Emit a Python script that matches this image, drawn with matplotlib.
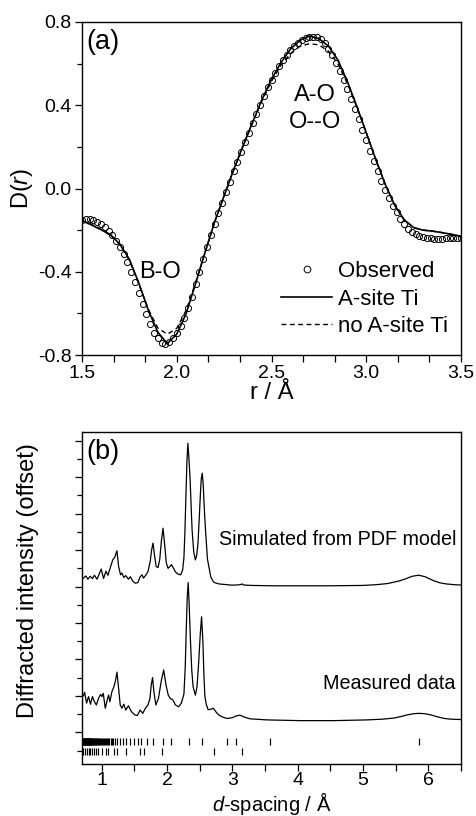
import matplotlib
matplotlib.use("Agg")
import matplotlib.pyplot as plt
from matplotlib.ticker import MultipleLocator, NullFormatter, FormatStrFormatter

plt.rcParams['font.family'] = ['Liberation Sans', 'DejaVu Sans']
plt.rcParams['mathtext.fontset'] = 'custom'
plt.rcParams['mathtext.rm'] = 'Liberation Sans'
plt.rcParams['mathtext.it'] = 'Liberation Sans:italic'

# ---------------- Panel (a) data ----------------
obs_r = [1.50,1.52,1.54,1.56,1.58,1.60,1.62,1.64,1.66,1.68,1.70,1.72,1.74,1.76,1.78,1.80,
         1.82,1.84,1.86,1.88,1.90,1.92,1.94,1.96,1.98,2.00,2.02,2.04,2.06,2.08,2.10,2.12,
         2.14,2.16,2.18,2.20,2.22,2.24,2.26,2.28,2.30,2.32,2.34,2.36,2.38,2.40,2.42,2.44,
         2.46,2.48,2.50,2.52,2.54,2.56,2.58,2.60,2.62,2.64,2.66,2.68,2.70,2.72,2.74,2.76,
         2.78,2.80,2.82,2.84,2.86,2.88,2.90,2.92,2.94,2.96,2.98,3.00,3.02,3.04,3.06,3.08,
         3.10,3.12,3.14,3.16,3.18,3.20,3.22,3.24,3.26,3.28,3.30,3.32,3.34,3.36,3.38,3.40,
         3.42,3.44,3.46,3.48,3.50]
obs_D = [-0.150,-0.148,-0.148,-0.152,-0.160,-0.172,-0.186,-0.205,-0.225,-0.250,-0.280,-0.315,
         -0.355,-0.400,-0.450,-0.500,-0.553,-0.605,-0.652,-0.692,-0.720,-0.740,-0.745,-0.738,
         -0.720,-0.695,-0.660,-0.620,-0.575,-0.520,-0.460,-0.400,-0.340,-0.282,-0.225,-0.170,
         -0.118,-0.068,-0.018,0.032,0.082,0.128,0.175,0.222,0.268,0.313,0.358,0.402,0.445,
         0.486,0.522,0.557,0.588,0.616,0.642,0.665,0.684,0.700,0.713,0.722,0.728,0.730,0.726,
         0.716,0.698,0.672,0.640,0.604,0.564,0.521,0.476,0.429,0.381,0.332,0.282,0.232,0.182,
         0.132,0.083,0.037,-0.006,-0.046,-0.082,-0.115,-0.146,-0.172,-0.193,-0.209,-0.221,
         -0.229,-0.235,-0.238,-0.240,-0.241,-0.241,-0.241,-0.240,-0.240,-0.239,-0.238,-0.236]

fit_r = [1.50,1.55,1.60,1.65,1.70,1.75,1.80,1.85,1.90,1.95,2.00,2.05,2.10,2.15,2.20,2.25,
         2.30,2.35,2.40,2.45,2.50,2.55,2.60,2.65,2.70,2.75,2.80,2.85,2.90,2.95,3.00,3.05,
         3.10,3.15,3.20,3.25,3.30,3.35,3.40,3.45,3.50]
asite_D = [-0.155,-0.175,-0.198,-0.222,-0.268,-0.340,-0.455,-0.585,-0.690,-0.745,-0.700,
           -0.600,-0.455,-0.305,-0.160,-0.035,0.090,0.205,0.318,0.428,0.525,0.605,0.670,
           0.712,0.733,0.720,0.685,0.618,0.515,0.395,0.268,0.140,0.020,-0.080,-0.150,
           -0.188,-0.200,-0.205,-0.212,-0.220,-0.230]
noasite_D = [-0.155,-0.172,-0.195,-0.222,-0.270,-0.345,-0.460,-0.580,-0.670,-0.700,-0.672,
             -0.585,-0.450,-0.305,-0.162,-0.035,0.088,0.203,0.315,0.422,0.515,0.592,0.648,
             0.683,0.696,0.690,0.660,0.600,0.505,0.392,0.268,0.140,0.020,-0.080,-0.150,
             -0.188,-0.200,-0.205,-0.212,-0.220,-0.230]

# ---------------- Panel (b) data ----------------
sim_d = [0.72,0.76,0.79,0.826,0.86,0.89,0.93,0.964,0.994,1.03,1.066,1.097,1.13,1.17,1.20,
         1.235,1.26,1.29,1.31,1.34,1.37,1.41,1.44,1.475,1.516,1.556,1.59,1.62,1.64,1.68,
         1.71,1.745,1.765,1.787,1.81,1.835,1.864,1.89,1.915,1.94,1.965,1.99,2.017,2.045,
         2.07,2.10,2.13,2.17,2.21,2.24,2.26,2.275,2.29,2.305,2.32,2.337,2.355,2.37,2.385,
         2.41,2.435,2.455,2.475,2.495,2.51,2.525,2.54,2.555,2.57,2.59,2.62,2.67,2.71,2.74,
         2.8,2.86,2.92,2.97,3.05,3.12,3.15,3.18,3.3,3.6,4.0,4.5,5.0,5.2,5.37,5.5,5.57,5.65,
         5.75,5.85,5.95,6.08,6.18,6.28,6.4,6.5]
sim_I = [4.23,4.29,4.20,4.28,4.22,4.31,4.20,4.35,4.48,4.22,4.42,4.31,4.50,4.73,4.80,
         4.98,4.55,4.32,4.37,4.25,4.30,4.20,4.27,4.15,4.09,4.11,4.27,4.32,4.23,4.32,
         4.41,4.70,5.00,5.19,4.85,4.55,4.52,4.75,5.25,5.60,5.15,4.65,4.50,4.55,
         4.60,4.50,4.40,4.34,4.32,4.45,4.80,5.50,6.47,7.40,7.93,7.50,6.93,6.20,5.55,
         4.95,4.73,4.85,5.19,5.90,6.47,6.95,7.11,6.80,6.20,5.55,4.75,4.27,4.13,4.10,
         4.07,4.06,4.05,4.04,4.04,4.05,4.07,4.04,4.03,4.02,4.02,4.02,4.03,4.05,4.08,4.13,
         4.16,4.21,4.28,4.31,4.27,4.16,4.10,4.07,4.05,4.04]

meas_d = [0.72,0.74,0.77,0.80,0.83,0.86,0.89,0.92,0.953,0.984,1.005,1.025,1.056,1.086,1.107,
          1.127,1.158,1.18,1.21,1.235,1.26,1.285,1.31,1.34,1.37,1.41,1.455,1.505,1.547,1.59,
          1.63,1.67,1.71,1.74,1.76,1.78,1.80,1.83,1.87,1.915,1.95,1.985,2.02,2.05,2.09,2.13,
          2.18,2.22,2.26,2.28,2.295,2.31,2.325,2.34,2.36,2.38,2.40,2.435,2.46,2.485,2.51,
          2.53,2.55,2.565,2.58,2.60,2.63,2.67,2.71,2.75,2.79,2.85,2.92,3.0,3.06,3.12,3.18,
          3.27,3.53,4.04,4.55,5.06,5.3,5.47,5.6,5.68,5.78,5.85,5.95,6.03,6.15,6.24,6.35,6.5]
meas_I = [1.00,1.10,0.80,0.98,0.77,0.98,0.84,0.75,0.93,1.04,0.98,1.07,0.66,0.89,1.02,
          0.84,1.12,1.21,1.39,1.65,1.21,0.75,0.66,0.77,0.61,0.73,0.57,0.48,0.46,0.61,
          0.52,0.66,0.75,0.93,1.30,1.50,1.12,0.75,0.93,1.43,1.71,1.30,1.02,0.93,0.89,0.75,
          0.70,0.80,1.05,1.80,2.80,3.70,4.11,3.50,2.50,1.70,1.25,1.02,1.25,1.90,2.70,
          3.17,2.50,1.60,1.00,0.78,0.62,0.63,0.66,0.56,0.48,0.42,0.38,0.40,0.45,0.47,0.42,
          0.37,0.34,0.32,0.32,0.34,0.36,0.39,0.44,0.48,0.51,0.52,0.51,0.48,0.42,0.38,0.36,0.35]

refl_row1 = [0.71,0.715,0.72,0.725,0.73,0.735,0.74,0.745,0.75,0.755,0.76,0.765,0.77,0.775,
             0.78,0.785,0.79,0.795,0.80,0.806,0.812,0.818,0.824,0.83,0.837,0.844,0.851,
             0.858,0.866,0.874,0.882,0.89,0.90,0.91,0.92,0.93,0.94,0.95,0.962,0.975,0.988,
             1.0,1.02,1.035,1.05,1.065,1.08,1.10,1.12,1.14,1.16,1.18,1.21,1.24,1.28,1.33,
             1.38,1.44,1.50,1.55,1.60,1.69,1.79,1.945,2.06,2.33,2.53,2.92,3.055,3.58,5.85]
refl_row2 = [0.72,0.745,0.77,0.80,0.82,0.85,0.88,0.91,0.95,1.0,1.066,1.10,1.19,1.23,
             1.37,1.59,1.65,1.93,2.72,3.15]

FS_TICK = 14
FS_LAB = 17
FS_LEG = 16
FS_ANN = 17
FS_PANEL = 19.5
FS_NOTE = 14.2

fig = plt.figure(figsize=(4.76, 8.16), dpi=100)

def style(ax):
    for s in ax.spines.values():
        s.set_linewidth(1.0)
    ax.tick_params(which='both', direction='out', top=False, right=False,
                   labelsize=FS_TICK, width=0.9, pad=2.5)
    ax.tick_params(which='major', length=5)
    ax.tick_params(which='minor', length=3.5)

# ---- panel (a) ----
axa = fig.add_axes([82/476, 1-355/816, 379/476, 333/816])
axa.plot(obs_r, obs_D, 'o', ms=4.4, mfc='none', mec='black', mew=0.7, label='Observed')
axa.plot(fit_r, asite_D, '-', color='black', lw=1.2, label='A-site Ti')
axa.plot(fit_r, noasite_D, '--', color='black', lw=1.0, dashes=(3.5, 2.5), label='no A-site Ti')
axa.set_xlim(1.5, 3.5)
axa.set_ylim(-0.8, 0.8)
axa.xaxis.set_major_locator(MultipleLocator(0.5))
axa.xaxis.set_minor_locator(MultipleLocator(0.5/3))
axa.yaxis.set_major_locator(MultipleLocator(0.4))
axa.yaxis.set_minor_locator(MultipleLocator(0.2))
axa.xaxis.set_major_formatter(FormatStrFormatter('%.1f'))
axa.yaxis.set_major_formatter(FormatStrFormatter('%.1f'))
style(axa)
axa.tick_params(which='minor', axis='x', length=5)
axa.set_xlabel('r / Å', fontsize=FS_LAB, labelpad=0)
axa.set_ylabel(r'D($\mathit{r}$)', fontsize=FS_LAB, labelpad=2)
axa.text(0.012, 0.94, '(a)', transform=axa.transAxes, fontsize=FS_PANEL, ha='left', va='center')
axa.text(1.91, -0.40, 'B-O', fontsize=FS_ANN, ha='center', va='center')
axa.text(2.73, 0.45, 'A-O', fontsize=FS_ANN, ha='center', va='center')
axa.text(2.73, 0.32, 'O--O', fontsize=FS_ANN, ha='center', va='center')
leg = axa.legend(loc='lower right', bbox_to_anchor=(0.995, 0.02), frameon=False,
                 fontsize=FS_LEG, handlelength=2.3, handletextpad=0.25, labelspacing=0.3,
                 borderpad=0.0, markerscale=1.1)

# ---- panel (b) ----
axb = fig.add_axes([82/476, 1-764/816, 379/476, 332/816])
axb.plot(sim_d, sim_I, '-', color='black', lw=0.9)
axb.plot(meas_d, meas_I, '-', color='black', lw=0.9)
axb.vlines(refl_row1, -0.36, -0.16, color='black', lw=0.85)
axb.vlines(refl_row2, -0.62, -0.42, color='black', lw=0.85)
axb.set_xlim(0.7, 6.5)
axb.set_ylim(-0.87, 8.24)
axb.xaxis.set_major_locator(MultipleLocator(1))
axb.xaxis.set_minor_locator(MultipleLocator(0.5))
axb.yaxis.set_major_locator(MultipleLocator(1))
axb.yaxis.set_minor_locator(MultipleLocator(0.5))
axb.yaxis.set_major_formatter(NullFormatter())
style(axb)
axb.tick_params(which='both', axis='x', pad=1.0)
axb.tick_params(which='minor', axis='x', length=5)
axb.set_xlabel(r'$\mathit{d}$-spacing / Å', fontsize=14.5)
axb.xaxis.set_label_coords(0.5, -0.077)
axb.set_ylabel('Diffracted intensity (offset)', fontsize=FS_LAB)
axb.yaxis.set_label_coords(-0.113, 0.554)
axb.text(0.012, 0.94, '(b)', transform=axb.transAxes, fontsize=FS_PANEL, ha='left', va='center')
axb.text(0.989, 5.28, 'Simulated from PDF model', transform=axb.get_yaxis_transform(),
         fontsize=FS_NOTE, ha='right', va='center')
axb.text(0.986, 1.35, 'Measured data', transform=axb.get_yaxis_transform(),
         fontsize=FS_NOTE, ha='right', va='center')

fig.savefig('out.png', dpi=100)
